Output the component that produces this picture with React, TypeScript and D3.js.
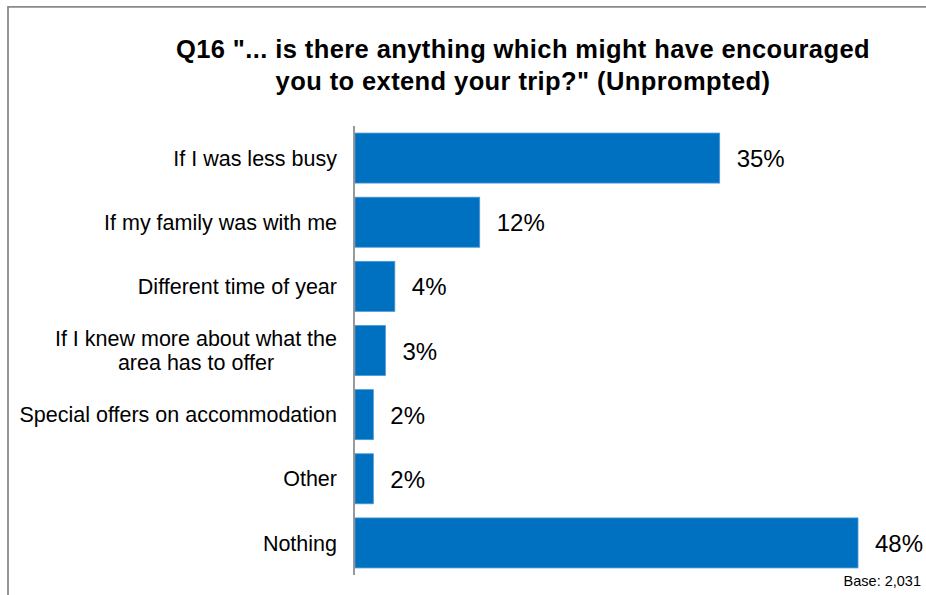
import React, { useEffect, useRef } from "react";
import * as d3 from "d3";

const categories: string[] = [
  "If I was less busy",
  "If my family was with me",
  "Different time of year",
  "If I knew more about what the\narea has to offer",
  "Special offers on accommodation",
  "Other",
  "Nothing",
];
const values: number[] = [34.8, 11.9, 3.8, 2.9, 1.75, 1.75, 48.0];
const valueLabels: string[] = ["35%", "12%", "4%", "3%", "2%", "2%", "48%"];
const titleLines: string[] = [
  'Q16 "... is there anything which might have encouraged',
  'you to extend your trip?" (Unprompted)',
];
const baseNote = "Base: 2,031";

const W = 926;
const H = 595;
const FONT = "Arial, 'Liberation Sans', Helvetica, sans-serif";

export default function App() {
  const ref = useRef<SVGSVGElement | null>(null);

  useEffect(() => {
    const svg = d3.select(ref.current);
    svg.selectAll("*").remove();

    svg.append("rect").attr("x", 0).attr("y", 0).attr("width", W).attr("height", H).attr("fill", "#ffffff");

    // frame
    svg.append("path")
      .attr("d", `M8,${H} L8,6.8 L${W},6.8`)
      .attr("fill", "none")
      .attr("stroke", "#8a8a8a")
      .attr("stroke-width", 1.8);

    // title
    const titleY = [57.5, 90];
    titleLines.forEach((t, i) => {
      svg.append("text")
        .attr("x", 523)
        .attr("y", titleY[i])
        .attr("text-anchor", "middle")
        .attr("font-family", FONT)
        .attr("font-weight", "bold")
        .attr("font-size", 25.5)
        .attr("letter-spacing", 0.4)
        .attr("fill", "#000")
        .text(t);
    });

    const x = d3.scaleLinear().domain([0, 48]).range([355, 858]);
    const y = d3.scaleBand<string>().domain(categories).range([126, 575]).paddingInner(0.22).paddingOuter(0.11);

    // bars
    svg.append("g")
      .selectAll("rect")
      .data(values)
      .join("rect")
      .attr("x", x(0))
      .attr("y", (_d, i) => y(categories[i])!)
      .attr("width", (d) => x(d) - x(0))
      .attr("height", y.bandwidth())
      .attr("fill", "#0070C0")
      .attr("stroke", "#4f97d4")
      .attr("stroke-width", 0.8);

    // axis line
    svg.append("line")
      .attr("x1", 354).attr("x2", 354)
      .attr("y1", 126).attr("y2", 575)
      .attr("stroke", "#808080")
      .attr("stroke-width", 1.6);

    // value labels
    svg.append("g")
      .selectAll("text")
      .data(values)
      .join("text")
      .attr("x", (d) => x(d) + 17)
      .attr("y", (_d, i) => y(categories[i])! + y.bandwidth() / 2 + 9)
      .attr("font-family", FONT)
      .attr("font-size", 24)
      .attr("fill", "#000")
      .text((_d, i) => valueLabels[i]);

    // category labels
    const labelRight = 337;
    categories.forEach((c) => {
      const lines = c.split("\n");
      const cy = y(c)! + y.bandwidth() / 2;
      const lh = 23.3;
      const g = svg.append("g");
      const nodes: SVGTextElement[] = [];
      lines.forEach((ln, j) => {
        const t = g.append("text")
          .attr("x", labelRight)
          .attr("y", cy + 7.6 + (j - (lines.length - 1) / 2) * lh)
          .attr("text-anchor", "end")
          .attr("font-family", FONT)
          .attr("font-size", 21.5)
          .attr("fill", "#000")
          .text(ln);
        nodes.push(t.node() as SVGTextElement);
      });
      if (nodes.length > 1) {
        const widths = nodes.map((n) => n.getComputedTextLength());
        const maxW = Math.max(...widths);
        const center = labelRight - maxW / 2;
        nodes.forEach((n) => {
          d3.select(n).attr("text-anchor", "middle").attr("x", center);
        });
      }
    });

    // base note
    svg.append("text")
      .attr("x", 921)
      .attr("y", 586)
      .attr("text-anchor", "end")
      .attr("font-family", FONT)
      .attr("font-size", 14.5)
      .attr("fill", "#000")
      .text(baseNote);
  }, []);

  return (
    <svg
      ref={ref}
      width={W}
      height={H}
      style={{ position: "absolute", left: 0, top: 0, display: "block" }}
    />
  );
}
